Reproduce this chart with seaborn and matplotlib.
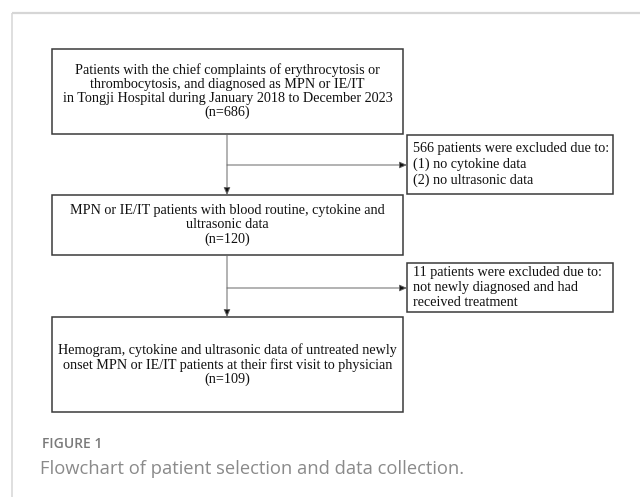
#!/usr/bin/env python3
import matplotlib
matplotlib.use("Agg")
import matplotlib.pyplot as plt
from matplotlib.patches import Rectangle
import seaborn as sns

# texts of the flowchart
main_texts = [
    "Patients with the chief complaints of erythrocytosis or\n"
    "thrombocytosis, and diagnosed as MPN or IE/IT\n"
    "in Tongji Hospital during January 2018 to December 2023\n"
    "(n=686)",
    "MPN or IE/IT patients with blood routine, cytokine and\n"
    "ultrasonic data\n"
    "(n=120)",
    "Hemogram, cytokine and ultrasonic data of untreated newly\n"
    "onset MPN or IE/IT patients at their first visit to physician\n"
    "(n=109)",
]
side_texts = [
    "566 patients were excluded due to:\n"
    "(1) no cytokine data\n"
    "(2) no ultrasonic data",
    "11 patients were excluded due to:\n"
    "not newly diagnosed and had\n"
    "received treatment",
]
fig_label = "FIGURE 1"
fig_caption = "Flowchart of patient selection and data collection."

# layout in pixels (x0, y0, x1, y1)
main_boxes = [(52, 49, 403, 134), (52, 195, 403, 255), (52, 317, 403, 412)]
side_boxes = [(407, 135, 613, 194), (407, 263, 613, 312)]
side_arrow_y = [165, 288]
x_mid = 227

sns.set_theme(style="white")
plt.rcParams['font.family'] = ['Liberation Serif', 'DejaVu Serif']

fig = plt.figure(figsize=(6.4, 4.97), dpi=100)
ax = fig.add_axes([0, 0, 1, 1])
ax.set_xlim(0, 640)
ax.set_ylim(497, 0)
ax.axis('off')

# page frame lines
ax.plot([12, 640], [12.5, 12.5], color='#d6d6d6', lw=1.6, solid_capstyle='butt')
ax.plot([11.5, 11.5], [12.5, 497], color='#d6d6d6', lw=1.1, solid_capstyle='butt')

edge = '#3a3a3a'
for (x0, y0, x1, y1), txt in zip(main_boxes, main_texts):
    ax.add_patch(Rectangle((x0, y0), x1 - x0, y1 - y0, fill=False, ec=edge, lw=1.1))
    ax.text((x0 + x1) / 2, (y0 + y1) / 2, txt, ha='center', va='center',
            fontsize=10.2, linespacing=1.08, color='#111111')

for (x0, y0, x1, y1), txt in zip(side_boxes, side_texts):
    ax.add_patch(Rectangle((x0, y0), x1 - x0, y1 - y0, fill=False, ec=edge, lw=1.1))
    ax.text(x0 + 6, (y0 + y1) / 2, txt, ha='left', va='center',
            fontsize=10.2, linespacing=1.22, color='#111111')

arrow = dict(arrowstyle='-|>,head_length=0.5,head_width=0.22', lw=0.7,
             color='#666666', shrinkA=0, shrinkB=0, mutation_scale=9)
head_col = '#111111'

# vertical arrows between the main boxes
for upper, lower in zip(main_boxes[:-1], main_boxes[1:]):
    a = ax.annotate('', xy=(x_mid, lower[1]), xytext=(x_mid, upper[3]),
                    arrowprops=arrow)
    a.arrow_patch.set_facecolor(head_col)

# side arrows to the exclusion boxes
for y, box in zip(side_arrow_y, side_boxes):
    a = ax.annotate('', xy=(box[0], y), xytext=(x_mid, y), arrowprops=arrow)
    a.arrow_patch.set_facecolor(head_col)

ax.text(42, 444, fig_label, ha='left', va='center', fontsize=10,
        family=['Open Sans', 'DejaVu Sans'], fontweight='semibold', color='#7a7a7a')
ax.text(40, 469, fig_caption, ha='left', va='center', fontsize=13.2,
        family=['Open Sans', 'DejaVu Sans'], color='#8a8a8a')

fig.savefig('out.png', dpi=100)
